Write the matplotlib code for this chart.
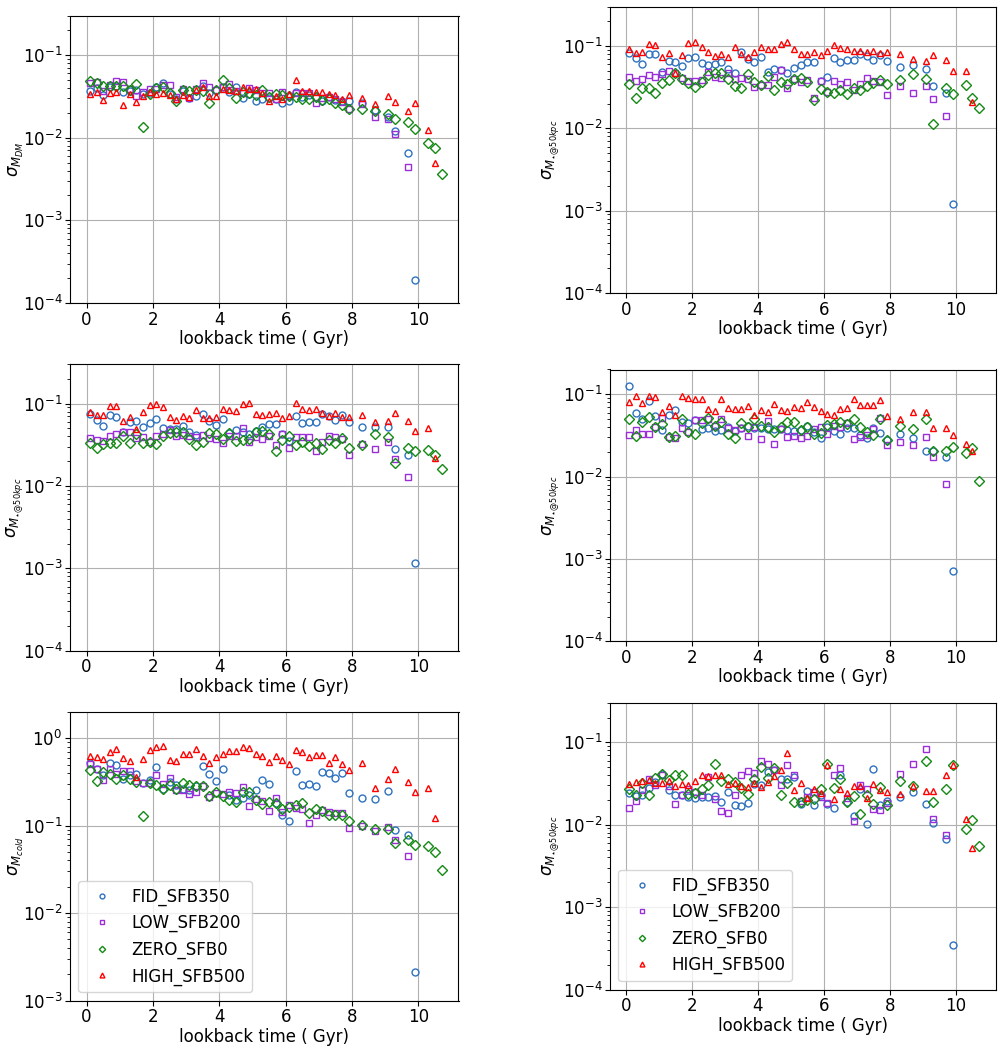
import matplotlib
matplotlib.use("Agg")
import matplotlib.pyplot as plt
import numpy as np

plt.rcParams['font.family'] = ['DejaVu Sans']
plt.rcParams['font.size'] = 12

# ---------------- time grids (lookback time, Gyr) ----------------
t_base = [0.1, 0.3, 0.5, 0.7, 0.9, 1.1, 1.3, 1.5, 1.7, 1.9,
          2.1, 2.3, 2.5, 2.7, 2.9, 3.1, 3.3, 3.5, 3.7, 3.9,
          4.1, 4.3, 4.5, 4.7, 4.9, 5.1, 5.3, 5.5, 5.7, 5.9,
          6.1, 6.3, 6.5, 6.7, 6.9, 7.1, 7.3, 7.5, 7.7, 7.9]
t_fid = t_base + [8.3, 8.7, 9.1, 9.3, 9.7, 9.9]
t_low = t_base + [8.3, 8.7, 9.1, 9.3, 9.7]
t_zero = t_base + [8.3, 8.7, 9.1, 9.3, 9.7, 9.9, 10.3, 10.5, 10.7]
t_high = t_base + [8.3, 8.7, 9.1, 9.3, 9.7, 9.9, 10.3, 10.5]

labels = ["FID_SFB350", "LOW_SFB200", "ZERO_SFB0", "HIGH_SFB500"]

# ---------------- panel 1: sigma M_DM ----------------
dm_fid = [0.0370, 0.0395, 0.0328, 0.0414, 0.0422, 0.0360, 0.0367, 0.0377, 0.0337, 0.0344,
          0.0414, 0.0454, 0.0337, 0.0296, 0.0367, 0.0302, 0.0322, 0.0422, 0.0344, 0.0377,
          0.0414, 0.0357, 0.0414, 0.0304, 0.0337, 0.0280, 0.0291, 0.0302, 0.0296, 0.0260,
          0.0275, 0.0360, 0.0307, 0.0328, 0.0307, 0.0280, 0.0307, 0.0286, 0.0280, 0.0275,
          0.0265, 0.0216, 0.0176, 0.0120, 0.0066, 0.00019]
dm_low = [0.0457, 0.0476, 0.0370, 0.0430, 0.0489, 0.0476, 0.0391, 0.0322, 0.0357, 0.0388,
          0.0384, 0.0434, 0.0430, 0.0307, 0.0388, 0.0299, 0.0388, 0.0462, 0.0414, 0.0377,
          0.0414, 0.0442, 0.0367, 0.0350, 0.0403, 0.0377, 0.0344, 0.0344, 0.0296, 0.0360,
          0.0319, 0.0350, 0.0344, 0.0344, 0.0265, 0.0304, 0.0313, 0.0291, 0.0272, 0.0220,
          0.0255, 0.0179, 0.0167, 0.0110, 0.00446]
dm_zero = [0.0488, 0.0454, 0.0422, 0.0426, 0.0422, 0.0418, 0.0377, 0.0446, 0.0135, 0.0337,
           0.0395, 0.0414, 0.0350, 0.0275, 0.0377, 0.0367, 0.0377, 0.0370, 0.0260, 0.0377,
           0.0494, 0.0395, 0.0304, 0.0360, 0.0350, 0.0328, 0.0377, 0.0313, 0.0334, 0.0328,
           0.0319, 0.0307, 0.0296, 0.0296, 0.0307, 0.0286, 0.0296, 0.0265, 0.0248, 0.0220,
           0.0224, 0.0212, 0.0192, 0.0170, 0.0156, 0.0128, 0.0085, 0.0074, 0.0036]
dm_high = [0.0337, 0.0360, 0.0286, 0.0350, 0.0360, 0.0248, 0.0337, 0.0267, 0.0319, 0.0354,
           0.0337, 0.0350, 0.0328, 0.0294, 0.0325, 0.0313, 0.0377, 0.0406, 0.0319, 0.0319,
           0.0384, 0.0377, 0.0367, 0.0414, 0.0384, 0.0391, 0.0350, 0.0280, 0.0322, 0.0294,
           0.0337, 0.0498, 0.0370, 0.0367, 0.0360, 0.0354, 0.0337, 0.0328, 0.0294, 0.0325,
           0.0304, 0.0255, 0.0319, 0.0270, 0.0212, 0.0260, 0.0125, 0.0050]

# ---------------- panel 2: sigma M_star@50kpc (top right) ----------------
s1_fid = [0.0822, 0.0708, 0.0599, 0.0800, 0.0792, 0.0479, 0.0663, 0.0645, 0.0577, 0.0722,
          0.0742, 0.0616, 0.0583, 0.0599, 0.0639, 0.0526, 0.0475, 0.0853, 0.0695, 0.0633,
          0.0742, 0.0488, 0.0526, 0.0511, 0.0475, 0.0541, 0.0583, 0.0633, 0.0639, 0.0380,
          0.0416, 0.0708, 0.0645, 0.0670, 0.0676, 0.0792, 0.0763, 0.0682, 0.0777, 0.0657,
          0.0561, 0.0583, 0.0530, 0.0324, 0.0271, 0.00122]
s1_low = [0.0416, 0.0376, 0.0398, 0.0440, 0.0424, 0.0453, 0.0502, 0.0466, 0.0412, 0.0376,
          0.0380, 0.0383, 0.0479, 0.0416, 0.0412, 0.0466, 0.0394, 0.0412, 0.0401, 0.0321,
          0.0333, 0.0336, 0.0424, 0.0511, 0.0306, 0.0401, 0.0362, 0.0383, 0.0234, 0.0380,
          0.0279, 0.0372, 0.0345, 0.0362, 0.0290, 0.0349, 0.0408, 0.0376, 0.0366, 0.0256,
          0.0330, 0.0271, 0.0330, 0.0225, 0.0143]
s1_zero = [0.0342, 0.0236, 0.0309, 0.0312, 0.0271, 0.0359, 0.0387, 0.0466, 0.0400, 0.0352,
           0.0318, 0.0362, 0.0445, 0.0466, 0.0466, 0.0394, 0.0324, 0.0312, 0.0457, 0.0369,
           0.0333, 0.0432, 0.0292, 0.0366, 0.0345, 0.0394, 0.0408, 0.0366, 0.0221, 0.0301,
           0.0274, 0.0266, 0.0290, 0.0262, 0.0312, 0.0292, 0.0327, 0.0355, 0.0387, 0.0342,
           0.0383, 0.0462, 0.0398, 0.0112, 0.0309, 0.0262, 0.0333, 0.0236, 0.0175]
s1_high = [0.0911, 0.0815, 0.0838, 0.106, 0.104, 0.0729, 0.0815, 0.0466, 0.0777, 0.110,
           0.111, 0.0982, 0.0846, 0.0756, 0.0792, 0.0742, 0.0963, 0.0792, 0.0742, 0.0853,
           0.0982, 0.0919, 0.0911, 0.105, 0.111, 0.0911, 0.0792, 0.0800, 0.0853, 0.0770,
           0.0878, 0.102, 0.0946, 0.0928, 0.0878, 0.0878, 0.0838, 0.0861, 0.0815, 0.0838,
           0.0807, 0.0695, 0.0657, 0.0785, 0.0676, 0.0502, 0.0502, 0.0211]

# ---------------- panel 3: sigma M_star@50kpc (middle left) ----------------
s2_fid = [0.0749, 0.0627, 0.0531, 0.0729, 0.0695, 0.0457, 0.0604, 0.0622, 0.0516, 0.0588,
          0.0651, 0.0502, 0.0488, 0.0497, 0.0536, 0.0457, 0.0416, 0.0742, 0.0616, 0.0546,
          0.0651, 0.0445, 0.0475, 0.0457, 0.0428, 0.0470, 0.0516, 0.0567, 0.0567, 0.0424,
          0.0349, 0.0715, 0.0588, 0.0594, 0.0604, 0.0749, 0.0715, 0.0633, 0.0735, 0.0594,
          0.0516, 0.0516, 0.0516, 0.0282, 0.0238, 0.00115]
s2_low = [0.0380, 0.0366, 0.0352, 0.0408, 0.0428, 0.0457, 0.0453, 0.0380, 0.0398, 0.0345,
          0.0405, 0.0424, 0.0475, 0.0401, 0.0420, 0.0408, 0.0398, 0.0412, 0.0387, 0.0376,
          0.0336, 0.0401, 0.0401, 0.0511, 0.0339, 0.0394, 0.0373, 0.0401, 0.0315, 0.0428,
          0.0292, 0.0398, 0.0390, 0.0390, 0.0266, 0.0345, 0.0408, 0.0394, 0.0373, 0.0238,
          0.0321, 0.0279, 0.0345, 0.0211, 0.0128]
s2_zero = [0.0330, 0.0287, 0.0321, 0.0330, 0.0336, 0.0405, 0.0336, 0.0424, 0.0330, 0.0339,
           0.0321, 0.0405, 0.0436, 0.0457, 0.0449, 0.0373, 0.0315, 0.0339, 0.0445, 0.0428,
           0.0373, 0.0440, 0.0352, 0.0359, 0.0373, 0.0457, 0.0470, 0.0424, 0.0268, 0.0362,
           0.0408, 0.0315, 0.0345, 0.0306, 0.0330, 0.0279, 0.0359, 0.0330, 0.0380, 0.0292,
           0.0315, 0.0424, 0.0390, 0.0188, 0.0287, 0.0266, 0.0274, 0.0236, 0.0161]
s2_high = [0.0792, 0.0729, 0.0729, 0.0937, 0.0928, 0.0616, 0.0682, 0.0488, 0.0800, 0.0963,
           0.100, 0.0919, 0.0682, 0.0633, 0.0715, 0.0670, 0.0830, 0.0676, 0.0663, 0.0682,
           0.0853, 0.0830, 0.0822, 0.100, 0.101, 0.0749, 0.0729, 0.0742, 0.0770, 0.0676,
           0.0708, 0.103, 0.0869, 0.0846, 0.0853, 0.0777, 0.0708, 0.0777, 0.0682, 0.0689,
           0.0729, 0.0604, 0.0616, 0.0777, 0.0610, 0.0470, 0.0506, 0.0217]

# ---------------- panel 4: sigma M_star@50kpc (middle right) ----------------
s3_fid = [0.125, 0.0588, 0.0502, 0.0838, 0.0546, 0.0369, 0.0556, 0.0651, 0.0462, 0.0445,
          0.0493, 0.0376, 0.0394, 0.0362, 0.0366, 0.0405, 0.0362, 0.0394, 0.0408, 0.0387,
          0.0387, 0.0376, 0.0376, 0.0376, 0.0369, 0.0362, 0.0372, 0.0408, 0.0345, 0.0292,
          0.0398, 0.0359, 0.0327, 0.0394, 0.0394, 0.0321, 0.0298, 0.0387, 0.0342, 0.0277,
          0.0333, 0.0295, 0.0207, 0.0205, 0.0172, 0.00072]
s3_low = [0.0321, 0.0366, 0.0330, 0.0330, 0.0405, 0.0511, 0.0303, 0.0298, 0.0394, 0.0352,
          0.0488, 0.0488, 0.0502, 0.0416, 0.0502, 0.0394, 0.0369, 0.0387, 0.0315, 0.0405,
          0.0287, 0.0475, 0.0252, 0.0376, 0.0306, 0.0315, 0.0298, 0.0312, 0.0383, 0.0398,
          0.0330, 0.0412, 0.0398, 0.0453, 0.0287, 0.0306, 0.0324, 0.0383, 0.0521, 0.0242,
          0.0264, 0.0240, 0.0306, 0.0171, 0.0082]
s3_zero = [0.0502, 0.0312, 0.0466, 0.0526, 0.0398, 0.0436, 0.0303, 0.0315, 0.0497, 0.0352,
           0.0327, 0.0445, 0.0511, 0.0416, 0.0457, 0.0333, 0.0298, 0.0449, 0.0398, 0.0502,
           0.0416, 0.0405, 0.0345, 0.0405, 0.0457, 0.0457, 0.0369, 0.0405, 0.0333, 0.0342,
           0.0420, 0.0432, 0.0466, 0.0432, 0.0502, 0.0398, 0.0349, 0.0321, 0.0497, 0.0277,
           0.0408, 0.0376, 0.0502, 0.0205, 0.0207, 0.0227, 0.0192, 0.0221, 0.0089]
s3_high = [0.0815, 0.0963, 0.0792, 0.0954, 0.0928, 0.0616, 0.0715, 0.0561, 0.0946, 0.0911,
           0.0878, 0.0878, 0.0670, 0.0633, 0.0869, 0.0682, 0.0657, 0.0657, 0.0729, 0.0566,
           0.0651, 0.0616, 0.0756, 0.0651, 0.0627, 0.0702, 0.0682, 0.0815, 0.0708, 0.0627,
           0.0572, 0.0561, 0.0663, 0.0676, 0.0878, 0.0742, 0.0749, 0.0742, 0.0846, 0.0546,
           0.0506, 0.0616, 0.0610, 0.0387, 0.0394, 0.0321, 0.0249, 0.0207]

# ---------------- panel 5: sigma M_cold ----------------
cold_fid = [0.517, 0.449, 0.377, 0.522, 0.491, 0.339, 0.377, 0.387, 0.311, 0.333,
            0.470, 0.261, 0.316, 0.290, 0.261, 0.254, 0.285, 0.478, 0.394, 0.322,
            0.449, 0.222, 0.195, 0.207, 0.222, 0.259, 0.330, 0.302, 0.180, 0.131,
            0.114, 0.426, 0.290, 0.302, 0.287, 0.411, 0.404, 0.351, 0.397, 0.235,
            0.209, 0.202, 0.247, 0.0900, 0.0789, 0.0021]
cold_low = [0.504, 0.441, 0.336, 0.449, 0.394, 0.422, 0.419, 0.325, 0.311, 0.308,
            0.383, 0.302, 0.351, 0.259, 0.254, 0.232, 0.243, 0.285, 0.213, 0.237,
            0.232, 0.243, 0.235, 0.280, 0.166, 0.200, 0.191, 0.147, 0.207, 0.142,
            0.174, 0.160, 0.156, 0.107, 0.131, 0.152, 0.142, 0.141, 0.141, 0.094,
            0.100, 0.086, 0.097, 0.068, 0.0446]
cold_zero = [0.430, 0.325, 0.408, 0.390, 0.342, 0.377, 0.339, 0.319, 0.130, 0.308,
             0.290, 0.265, 0.290, 0.265, 0.311, 0.295, 0.285, 0.285, 0.217, 0.241,
             0.219, 0.195, 0.187, 0.243, 0.243, 0.198, 0.178, 0.187, 0.182, 0.154,
             0.162, 0.171, 0.184, 0.141, 0.156, 0.146, 0.134, 0.131, 0.134, 0.112,
             0.101, 0.092, 0.091, 0.064, 0.068, 0.060, 0.058, 0.050, 0.031]
cold_high = [0.622, 0.617, 0.585, 0.697, 0.762, 0.600, 0.555, 0.361, 0.585, 0.742,
             0.789, 0.810, 0.570, 0.555, 0.656, 0.656, 0.762, 0.633, 0.526, 0.605,
             0.667, 0.722, 0.722, 0.803, 0.768, 0.656, 0.628, 0.536, 0.628, 0.565,
             0.513, 0.735, 0.704, 0.617, 0.639, 0.639, 0.526, 0.605, 0.513, 0.438,
             0.522, 0.270, 0.342, 0.449, 0.313, 0.245, 0.268, 0.123]

# ---------------- panel 6: sigma M_star@50kpc (bottom right) ----------------
s4_fid = [0.0245, 0.0223, 0.0232, 0.0279, 0.0330, 0.0416, 0.0262, 0.0232, 0.0232, 0.0217,
          0.0211, 0.0217, 0.0217, 0.0223, 0.0189, 0.0249, 0.0172, 0.0169, 0.0185, 0.0309,
          0.0301, 0.0436, 0.0457, 0.0362, 0.0362, 0.0380, 0.0180, 0.0256, 0.0172, 0.0232,
          0.0180, 0.0161, 0.0405, 0.0189, 0.0128, 0.0274, 0.0103, 0.0479, 0.0175, 0.0192,
          0.0217, 0.0249, 0.0180, 0.0105, 0.0067, 0.00035]
s4_low = [0.0159, 0.0192, 0.0267, 0.0362, 0.0306, 0.0398, 0.0295, 0.0180, 0.0232, 0.0269,
          0.0249, 0.0232, 0.0380, 0.0207, 0.0145, 0.0140, 0.0227, 0.0405, 0.0453, 0.0428,
          0.0588, 0.0551, 0.0457, 0.0301, 0.0526, 0.0405, 0.0194, 0.0217, 0.0249, 0.0217,
          0.0185, 0.0398, 0.0488, 0.0211, 0.0110, 0.0301, 0.0274, 0.0153, 0.0152, 0.0185,
          0.0416, 0.0541, 0.0838, 0.0118, 0.0074]
s4_zero = [0.0269, 0.0227, 0.0321, 0.0232, 0.0369, 0.0416, 0.0352, 0.0398, 0.0398, 0.0238,
           0.0245, 0.0269, 0.0306, 0.0551, 0.0336, 0.0362, 0.0330, 0.0279, 0.0238, 0.0362,
           0.0502, 0.0373, 0.0493, 0.0227, 0.0324, 0.0189, 0.0189, 0.0197, 0.0207, 0.0274,
           0.0541, 0.0279, 0.0362, 0.0189, 0.0221, 0.0136, 0.0232, 0.0180, 0.0287, 0.0172,
           0.0336, 0.0295, 0.0599, 0.0187, 0.0274, 0.0526, 0.0088, 0.0113, 0.0055]
s4_high = [0.0315, 0.0330, 0.0336, 0.0345, 0.0321, 0.0321, 0.0339, 0.0292, 0.0309, 0.0301,
           0.0339, 0.0398, 0.0390, 0.0398, 0.0398, 0.0315, 0.0324, 0.0295, 0.0287, 0.0324,
           0.0287, 0.0330, 0.0390, 0.0457, 0.0749, 0.0262, 0.0324, 0.0211, 0.0269, 0.0242,
           0.0526, 0.0203, 0.0274, 0.0245, 0.0295, 0.0295, 0.0211, 0.0315, 0.0262, 0.0249,
           0.0238, 0.0295, 0.0256, 0.0256, 0.0398, 0.0526, 0.0117, 0.0052]

# ---------------- styling ----------------
colors = ['#2f72bf', '#9a2fd8', '#138a13', '#ff0000']
markers = ['o', 's', 'D', '^']
msizes = [5.0, 5.0, 4.6, 5.0]
times = [t_fid, t_low, t_zero, t_high]

W, H = 1004, 1050
fig = plt.figure(figsize=(W / 100, H / 100), dpi=100)


def rect(x0, y0, x1, y1):
    return [x0 / W, 1 - y1 / H, (x1 - x0) / W, (y1 - y0) / H]


star_lbl = r'$\sigma_{M_{\star @50kpc}}$'
# (rect, series, ylabel, ylim, xlim, legend, ylabel x in axes fraction)
panels = [
    (rect(70, 15.5, 458.5, 303), [dm_fid, dm_low, dm_zero, dm_high],
     r'$\sigma_{M_{DM}}$', (1e-4, 0.3), (-0.5, 11.21), False, -0.113),
    (rect(610, 6.7, 996.5, 293), [s1_fid, s1_low, s1_zero, s1_high],
     star_lbl, (1e-4, 0.3), (-0.475, 11.23), False, -0.125),
    (rect(70, 364.3, 458.5, 650.7), [s2_fid, s2_low, s2_zero, s2_high],
     star_lbl, (1e-4, 0.3), (-0.5, 11.21), False, -0.113),
    (rect(610, 369.5, 996.5, 641.3), [s3_fid, s3_low, s3_zero, s3_high],
     star_lbl, (1e-4, 0.2), (-0.475, 11.23), False, -0.125),
    (rect(70, 712, 458.5, 1000.5), [cold_fid, cold_low, cold_zero, cold_high],
     r'$\sigma_{M_{cold}}$', (1e-3, 2.0), (-0.5, 11.21), True, -0.113),
    (rect(610, 703, 996.5, 989.5), [s4_fid, s4_low, s4_zero, s4_high],
     star_lbl, (1e-4, 0.3), (-0.475, 11.23), True, -0.125),
]

for r, series, ylab, ylim, xlim, legend, ylx in panels:
    ax = fig.add_axes(r)
    for k in range(4):
        ax.plot(times[k], series[k], linestyle='none', marker=markers[k],
                markersize=msizes[k], markerfacecolor='none',
                markeredgecolor=colors[k], markeredgewidth=1.0,
                label=labels[k])
    ax.set_yscale('log')
    ax.set_ylim(*ylim)
    ax.set_xlim(*xlim)
    ax.set_xticks([0, 2, 4, 6, 8, 10])
    ax.grid(True, color='#b0b0b0', linewidth=0.8)
    ax.set_axisbelow(True)
    ax.tick_params(labelsize=12, pad=2)
    ax.set_xlabel('lookback time ( Gyr)', fontsize=12, labelpad=1)
    ax.set_ylabel(ylab, fontsize=12)
    ax.yaxis.set_label_coords(ylx, 0.5)
    if legend:
        ax.legend(loc='lower left', fontsize=12, markerscale=0.7)

fig.savefig('out.png', dpi=100)
